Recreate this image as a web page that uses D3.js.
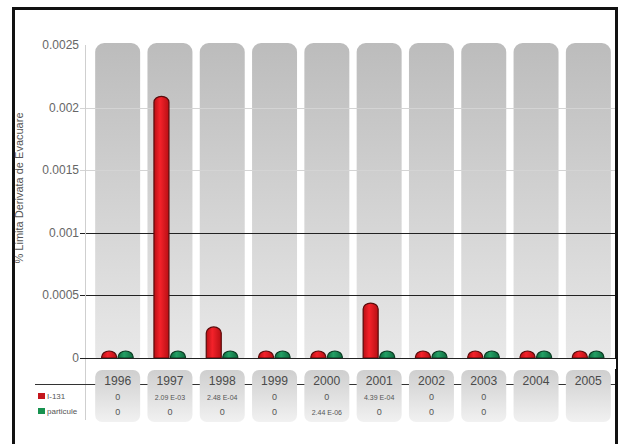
<!DOCTYPE html>
<html>
<head>
<meta charset="utf-8">
<script src="https://cdn.jsdelivr.net/npm/d3@7"></script>
<style>
  html, body { margin: 0; padding: 0; background: #fff; }
  svg { display: block; font-family: "Liberation Sans", Arial, sans-serif; }
</style>
</head>
<body>
<svg id="chart" width="620" height="444"></svg>
<script>
// Annual releases as % of the derived emission limit
const years = ["1996", "1997", "1998", "1999", "2000", "2001", "2002", "2003", "2004", "2005"];
const seriesNames = ["I-131", "particule"];
const i131 = [0, 2.09e-3, 2.48e-4, 0, 0, 4.39e-4, 0, 0, null, null];
const particule = [0, 0, 0, 0, 2.44e-6, 0, 0, 0, null, null];
const tableI131 = ["0", "2.09 E-03", "2.48 E-04", "0", "0", "4.39 E-04", "0", "0", "", ""];
const tableParticule = ["0", "0", "0", "0", "2.44 E-06", "0", "0", "0", "", ""];
const yTicks = [0, 0.0005, 0.001, 0.0015, 0.002, 0.0025];
const yTickLabels = ["0", "0.0005", "0.001", "0.0015", "0.002", "0.0025"];
const yTitle = "% Limita Derivata de Evacuare";

const svg = d3.select("#chart");
const defs = svg.append("defs");

const y = d3.scaleLinear().domain([0, 0.0025]).range([358, 45]);
const x = d3.scaleBand().domain(years).range([91.5, 614.5]).paddingInner(0.14).paddingOuter(0.07);

// gradients
function vGrad(id, top, bottom) {
  const g = defs.append("linearGradient").attr("id", id).attr("x1", 0).attr("y1", 0).attr("x2", 0).attr("y2", 1);
  g.append("stop").attr("offset", "0%").attr("stop-color", top);
  g.append("stop").attr("offset", "100%").attr("stop-color", bottom);
}
function hGrad(id, edge, mid) {
  const g = defs.append("linearGradient").attr("id", id).attr("x1", 0).attr("y1", 0).attr("x2", 1).attr("y2", 0);
  g.append("stop").attr("offset", "0%").attr("stop-color", edge);
  g.append("stop").attr("offset", "40%").attr("stop-color", mid);
  g.append("stop").attr("offset", "100%").attr("stop-color", edge);
}
vGrad("colGrad", "#bcbcbc", "#e9e9e9");
vGrad("boxGrad", "#cfcfcf", "#f1f1f1");
hGrad("redGrad", "#b80f14", "#f4222a");
hGrad("greenGrad", "#0f6a3e", "#23a065");

// frame
svg.append("rect").attr("x", 13.5).attr("y", 8.5).attr("width", 603).attr("height", 450)
  .attr("fill", "#fff").attr("stroke", "#111").attr("stroke-width", 3);

// column backgrounds
svg.append("g").selectAll("rect").data(years).join("rect")
  .attr("x", d => x(d)).attr("y", y(0.0025) - 2)
  .attr("width", x.bandwidth()).attr("height", y(0) - y(0.0025) + 8)
  .attr("rx", 9).attr("fill", "url(#colGrad)");

// white strip between plot and table
svg.append("rect").attr("x", 86).attr("y", y(0) + 1).attr("width", 530).attr("height", 10).attr("fill", "#fff");

// grid lines
const gridColor = v => (v >= 0.0015 ? "#d4d4d4" : "#222");
svg.append("g").selectAll("line").data(yTicks.filter(v => v < 0.0025)).join("line")
  .attr("x1", 80).attr("x2", 615)
  .attr("y1", d => Math.round(y(d)) + 0.5).attr("y2", d => Math.round(y(d)) + 0.5)
  .attr("stroke", d => gridColor(d)).attr("stroke-width", d => d >= 0.0015 ? 1 : 1.2);

// y axis line
svg.append("line").attr("x1", 85.5).attr("x2", 85.5).attr("y1", y(0.0025)).attr("y2", 420)
  .attr("stroke", "#cfcfcf");

// y tick labels
svg.append("g").selectAll("text").data(yTicks).join("text")
  .attr("x", 79).attr("y", d => y(d) + 4)
  .attr("text-anchor", "end").attr("font-size", 12).attr("fill", "#666")
  .text((d, i) => yTickLabels[i]);

// y axis title
svg.append("text").attr("transform", "translate(23,188) rotate(-90)")
  .attr("text-anchor", "middle").attr("font-size", 11).attr("fill", "#555").text(yTitle);

// bars: rounded top, flat base; zero values keep a small cap
const barW = 15, cap = 7, capR = 6;
function barPath(x0, v) {
  const base = y(0);
  const top = Math.min(y(v || 0), base - cap);
  const rx = barW / 2, ry = Math.min(capR, base - top);
  return `M${x0},${base} L${x0},${top + ry} A${rx},${ry} 0 0 1 ${x0 + barW},${top + ry} L${x0 + barW},${base} Z`;
}
const barsData = [];
years.forEach((yr, i) => {
  const c = x(yr) + x.bandwidth() / 2;
  barsData.push({ x0: c - barW - 1, v: i131[i], fill: "url(#redGrad)", stroke: "#5a0b0b" });
  barsData.push({ x0: c + 0.5, v: particule[i], fill: "url(#greenGrad)", stroke: "#0b3b22" });
});
svg.append("g").selectAll("path").data(barsData).join("path")
  .attr("d", d => barPath(d.x0, d.v))
  .attr("fill", d => d.fill).attr("stroke", d => d.stroke).attr("stroke-width", 1.2);

// zero line redrawn over the bar bases
svg.append("line").attr("x1", 80).attr("x2", 615).attr("y1", Math.round(y(0)) + 0.5).attr("y2", Math.round(y(0)) + 0.5)
  .attr("stroke", "#222").attr("stroke-width", 1.2);

// data table
const headerLineY = 384.5;
svg.append("line").attr("x1", 35).attr("x2", 615).attr("y1", headerLineY).attr("y2", headerLineY)
  .attr("stroke", "#333").attr("stroke-width", 1.2);

svg.append("g").selectAll("rect").data(years).join("rect")
  .attr("x", d => x(d)).attr("y", 370).attr("width", x.bandwidth()).attr("height", 52)
  .attr("rx", 7).attr("fill", "url(#boxGrad)");

svg.append("g").selectAll("text").data(years).join("text")
  .attr("x", d => x(d) + x.bandwidth() / 2).attr("y", 385)
  .attr("text-anchor", "middle").attr("font-size", 13).attr("fill", "#4a4a4a")
  .attr("textLength", 27).attr("lengthAdjust", "spacingAndGlyphs")
  .text(d => d);

const rows = [
  { name: seriesNames[0], vals: tableI131, color: "#c4161c", y: 398 },
  { name: seriesNames[1], vals: tableParticule, color: "#17924f", y: 413 }
];
rows.forEach(r => {
  svg.append("rect").attr("x", 38).attr("y", r.y - 5).attr("width", 7).attr("height", 6).attr("fill", r.color);
  svg.append("text").attr("x", 47).attr("y", r.y + 1).attr("font-size", 8).attr("fill", "#555").text(r.name);
  svg.append("g").selectAll("text").data(r.vals).join("text")
    .attr("x", (d, i) => x(years[i]) + x.bandwidth() / 2).attr("y", r.y + 1.5)
    .attr("text-anchor", "middle").attr("font-size", d => d.length > 2 ? 7 : 9).attr("fill", "#555")
    .text(d => d);
});
</script>
</body>
</html>
